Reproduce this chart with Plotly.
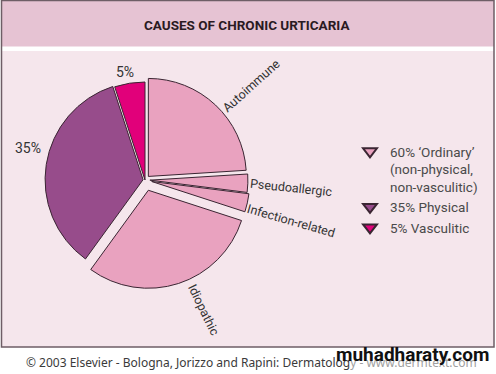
import plotly.graph_objects as go

# ---- data ----
causes = ["Autoimmune", "Pseudoallergic", "Infection-related", "Idiopathic", "Physical", "Vasculitic"]
shares = [24.0, 3.0, 3.0, 30.0, 35.0, 5.0]
groups = ["ordinary", "ordinary", "ordinary", "ordinary", "physical", "vasculitic"]
legend_labels = ["60% \u2018Ordinary\u2019<br>(non-physical,<br>non-vasculitic)", "35% Physical", "5% Vasculitic"]
legend_groups = ["ordinary", "physical", "vasculitic"]
title_text = "CAUSES OF CHRONIC URTICARIA"
footer_text = "\u00a9 2003 Elsevier - Bologna, Jorizzo and Rapini: Dermatolog<span style='color:#a0a0a0'>y - www.dermtext.com</span>"
watermark = "muhadharaty.com"

# ---- style ----
colors = {"ordinary": "#E9A2BF", "physical": "#974C8B", "vasculitic": "#E1007A"}
pulls = {"Autoimmune": 0.05, "Pseudoallergic": 0.05, "Infection-related": 0.07,
         "Idiopathic": 0.11, "Physical": 0.02, "Vasculitic": 0.0}
W, H = 496, 374
BG_PANEL = "#F5E6EC"
BG_HEAD = "#E6C3D3"
EDGE = "#3a2532"
TXT = "#333333"
FONT = "Roboto, sans-serif"

def px(x):
    return x / W

def py(y):
    return 1 - y / H

fig = go.Figure()

cx, cy, r = 145, 180, 98
maxpull = max(pulls.values())
R = r * (1 + maxpull)
fig.add_trace(go.Pie(
    labels=causes, values=shares, sort=False, direction="clockwise", rotation=0,
    marker=dict(colors=[colors[g] for g in groups], line=dict(color=EDGE, width=1)),
    pull=[pulls[c] for c in causes],
    textinfo="none", hoverinfo="label+percent", showlegend=False,
    domain=dict(x=[px(cx - R), px(cx + R)], y=[py(cy + R), py(cy - R)]),
))

for lab, g in zip(legend_labels, legend_groups):
    fig.add_trace(go.Scatter(
        x=[None], y=[None], mode="markers", name=lab,
        marker=dict(symbol="triangle-down", size=11, color=colors[g], line=dict(color=EDGE, width=1)),
    ))

fig.update_layout(
    width=W, height=H, margin=dict(l=0, r=0, t=0, b=0),
    paper_bgcolor="white", plot_bgcolor="rgba(0,0,0,0)",
    xaxis=dict(visible=False, range=[0, 1]), yaxis=dict(visible=False, range=[0, 1]),
    showlegend=True,
    legend=dict(x=px(350), y=py(136), xanchor="left", yanchor="top", valign="top",
                bgcolor="rgba(0,0,0,0)", font=dict(family=FONT, size=13.5, color="#4a4a4a"),
                tracegroupgap=2, itemsizing="constant"),
    font=dict(family=FONT, color=TXT),
)

shapes = [
    dict(type="rect", xref="paper", yref="paper", x0=px(1), x1=px(494), y0=py(46.5), y1=py(0),
         fillcolor=BG_HEAD, line=dict(width=0), layer="below"),
    dict(type="rect", xref="paper", yref="paper", x0=px(1), x1=px(494), y0=py(347), y1=py(51),
         fillcolor=BG_PANEL, line=dict(width=0), layer="below"),
    dict(type="rect", xref="paper", yref="paper", x0=px(1.5), x1=px(494), y0=py(347), y1=py(0.5),
         fillcolor="rgba(0,0,0,0)", line=dict(color="#6e5e66", width=1.5), layer="below"),
]
fig.update_layout(shapes=shapes)

ann = []
ann.append(dict(text=title_text, x=px(247), y=py(25),
                font=dict(family=FONT, size=13.5, weight="bold", color="#2a1a22")))
labels_pos = [
    ("Autoimmune", 251, 85, -42),
    ("Pseudoallergic", 291, 187, 6),
    ("Infection-related", 291, 220, 16),
    ("Idiopathic", 204, 309, 64),
]
for t, x, y, a in labels_pos:
    ann.append(dict(text=t, x=px(x), y=py(y), textangle=a, font=dict(size=12.5, color=TXT)))
ann.append(dict(text=f"{shares[5]:.0f}%", x=px(125), y=py(72), font=dict(size=14, color=TXT)))
ann.append(dict(text=f"{shares[4]:.0f}%", x=px(28), y=py(148), font=dict(size=14, color=TXT)))
ann.append(dict(text=footer_text, x=px(24), y=py(362), xanchor="left",
                font=dict(family="Noto Sans, sans-serif", size=12, color="#3a3a3a")))
ann.append(dict(text=f"<b>{watermark}</b>", x=px(491), y=py(354), xanchor="right",
                font=dict(family=FONT, size=19, color="#111")))
for a in ann:
    a.setdefault("xref", "paper")
    a.setdefault("yref", "paper")
    a.setdefault("xanchor", "center")
    a.setdefault("yanchor", "middle")
    a.setdefault("showarrow", False)
fig.update_layout(annotations=ann)

fig.write_html("out.html", config={"displayModeBar": False},
               post_script="document.body.style.margin='0';")
